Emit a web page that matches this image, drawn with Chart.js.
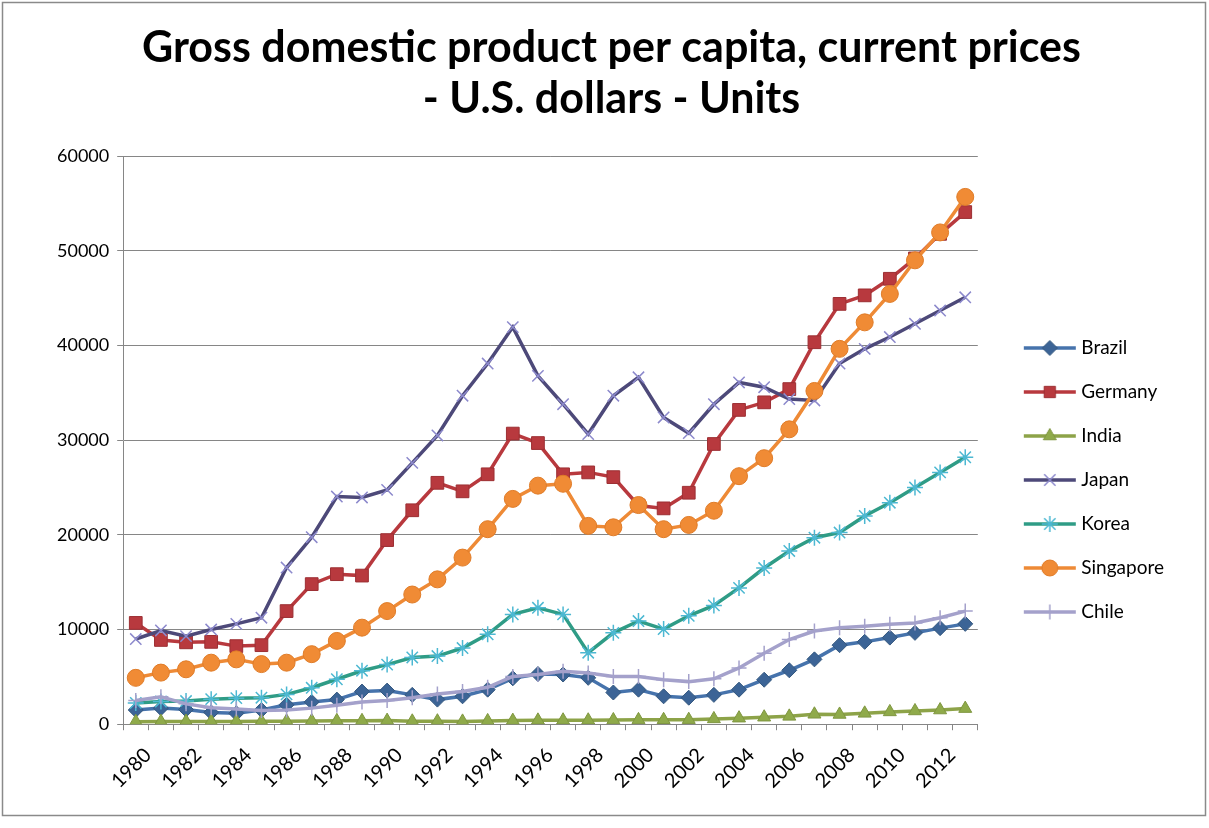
<!DOCTYPE html>
<html><head><meta charset="utf-8">
<script src="https://cdn.jsdelivr.net/npm/chart.js@4.4.1/dist/chart.umd.min.js"></script>
<style>html,body{margin:0;padding:0;background:#fff;overflow:hidden}#wrap{width:1209px;height:828px;position:relative}</style>
</head><body><div id="wrap"><canvas id="c" width="1209" height="828"></canvas></div>
<script>
const years = ['1980','1981','1982','1983','1984','1985','1986','1987','1988','1989','1990','1991','1992','1993','1994','1995','1996','1997','1998','1999','2000','2001','2002','2003','2004','2005','2006','2007','2008','2009','2010','2011','2012','2013'];
const seriesNames = ['Brazil','Germany','India','Japan','Korea','Singapore','Chile'];
const brazil    = [1500,1700,1550,1250,1150,1500,2050,2350,2600,3450,3550,3100,2600,2950,3650,4850,5300,5250,4900,3350,3650,2950,2800,3100,3650,4700,5700,6850,8350,8700,9150,9650,10150,10600];
const germany   = [10700,8900,8650,8700,8250,8350,11950,14800,15850,15700,19450,22600,25500,24600,26400,30700,29700,26400,26600,26100,23100,22800,24450,29600,33200,34000,35400,40350,44400,45300,47050,49200,51800,54100];
const india     = [270,280,290,300,290,310,320,350,360,360,380,310,320,300,350,380,410,420,420,450,460,470,480,560,640,740,830,1050,1030,1150,1300,1400,1500,1650];
const japan     = [9000,9900,9300,10000,10600,11250,16550,19750,24050,23950,24750,27600,30500,34700,38100,41950,36800,33800,30650,34700,36650,32400,30750,33800,36100,35600,34350,34200,38100,39650,40900,42300,43700,45100];
const korea     = [2250,2400,2450,2650,2750,2800,3150,3850,4750,5650,6300,7050,7200,8050,9500,11600,12300,11600,7550,9650,10900,10050,11450,12550,14400,16500,18300,19700,20250,22000,23400,25000,26600,28200];
const singapore = [4900,5450,5800,6500,6850,6350,6500,7400,8800,10200,11950,13700,15300,17600,20600,23800,25200,25400,20950,20800,23150,20600,21050,22550,26200,28100,31150,35200,39650,42450,45450,49000,51950,55700];
const chile     = [2500,2900,2150,1750,1600,1450,1500,1700,2000,2350,2500,2800,3200,3450,3900,5050,5250,5600,5400,5050,5050,4700,4500,4800,5950,7500,8950,9850,10200,10350,10550,10700,11250,11950];
const yTicks = [0,10000,20000,30000,40000,50000,60000];

const seriesData = [brazil, germany, india, japan, korea, singapore, chile];
const styles = [
  {line:'#4673AC', fill:'#3C6496', border:'#34587f', ps:'rectRot', r:7.5, bw:1},
  {line:'#B8393E', fill:'#B8393E', border:'#9c2f33', ps:'rect', r:9, bw:1},
  {line:'#8DA348', fill:'#8FAA4A', border:'#7f9640', ps:'triangle', r:7.5, bw:1},
  {line:'#4D4979', fill:'#8C89CC', border:'#8C89CC', ps:'crossRot', r:8, bw:1.5},
  {line:'#2F9C86', fill:'#4CB8D2', border:'#4CB8D2', ps:'star', r:8, bw:1.5},
  {line:'#EE8A36', fill:'#F08B35', border:'#e07c28', ps:'circle', r:8.5, bw:1},
  {line:'#A4A1CB', fill:'#A4A1CB', border:'#A4A1CB', ps:'cross', r:7.5, bw:1.5}
];

const FONT = 'Lato';
const datasets = seriesNames.map((n,i)=>({
  label:n, data:seriesData[i],
  borderColor:styles[i].line, backgroundColor:styles[i].fill,
  pointBackgroundColor:styles[i].fill, pointBorderColor:styles[i].border,
  pointStyle:styles[i].ps, pointRadius:styles[i].r, pointBorderWidth:styles[i].bw,
  pointHoverRadius:styles[i].r, borderWidth:3.5, tension:0, order:7-i
}));

function legendIcon(i){
  const cv=document.createElement('canvas'); cv.width=54; cv.height=22;
  const c=cv.getContext('2d');
  c.strokeStyle=styles[i].line; c.lineWidth=3.5; c.beginPath(); c.moveTo(1,11); c.lineTo(53,11); c.stroke();
  c.fillStyle=styles[i].fill; c.strokeStyle=styles[i].border; c.lineWidth=styles[i].bw;
  Chart.helpers.drawPoint(c,{pointStyle:styles[i].ps,radius:Math.min(styles[i].r,8),rotation:0,borderWidth:styles[i].bw},27,11);
  return cv;
}

const frame = {id:'frame', beforeDraw(chart){const c=chart.ctx;c.save();c.fillStyle='#fff';c.fillRect(0,0,chart.width,chart.height);c.restore();},
  afterDraw(chart){const c=chart.ctx;c.save();c.strokeStyle='#8a8a8a';c.lineWidth=1.5;c.strokeRect(2.5,2.5,1203,813);c.restore();}};

new Chart(document.getElementById('c'),{
  type:'line',
  data:{labels:years, datasets},
  plugins:[frame],
  options:{
    responsive:false, animation:false, devicePixelRatio:1,
    layout:{padding:{left:49,right:35,top:0,bottom:22}},
    plugins:{
      title:{display:true, text:['Gross domestic product per capita, current prices','- U.S. dollars - Units'],
        color:'#000', font:{family:FONT,size:43,weight:'bold',lineHeight:1.2}, padding:{top:22,bottom:31}},
      legend:{position:'right', align:'center',
        title:{display:true, text:' ', font:{size:1,lineHeight:1}, padding:{top:153,bottom:0}},
        labels:{usePointStyle:true, pointStyleWidth:44, padding:25, color:'#000', font:{family:FONT,size:19},
          generateLabels:(chart)=>chart.data.datasets.map((d,i)=>({text:d.label, pointStyle:legendIcon(i), fillStyle:'transparent', strokeStyle:'transparent', lineWidth:0, hidden:false, datasetIndex:i, fontColor:'#000'}))}},
      tooltip:{enabled:false}
    },
    scales:{
      x:{offset:true, grid:{display:true, drawOnChartArea:false, drawTicks:true, tickLength:6, color:'#868686', offset:true},
        border:{display:true,color:'#868686',width:1},
        ticks:{autoSkip:false, minRotation:45, maxRotation:45, color:'#000', font:{family:FONT,size:20}, padding:13, labelOffset:12,
          callback:(v,idx)=> idx%2===0 ? years[idx] : ''}},
      y:{min:0, max:60000, afterBuildTicks:(s)=>{s.ticks=yTicks.map(v=>({value:v}));},
        grid:{color:'#868686', lineWidth:1, tickLength:6}, border:{display:true,color:'#868686',width:1},
        ticks:{color:'#000', font:{family:FONT,size:18}, padding:8, callback:(v)=>String(v)}},
      yR:{position:'right', display:true, grid:{display:false}, ticks:{display:false}, border:{display:false},
        afterFit:(s)=>{s.width=25;}}
    }
  }
});
</script></body></html>
